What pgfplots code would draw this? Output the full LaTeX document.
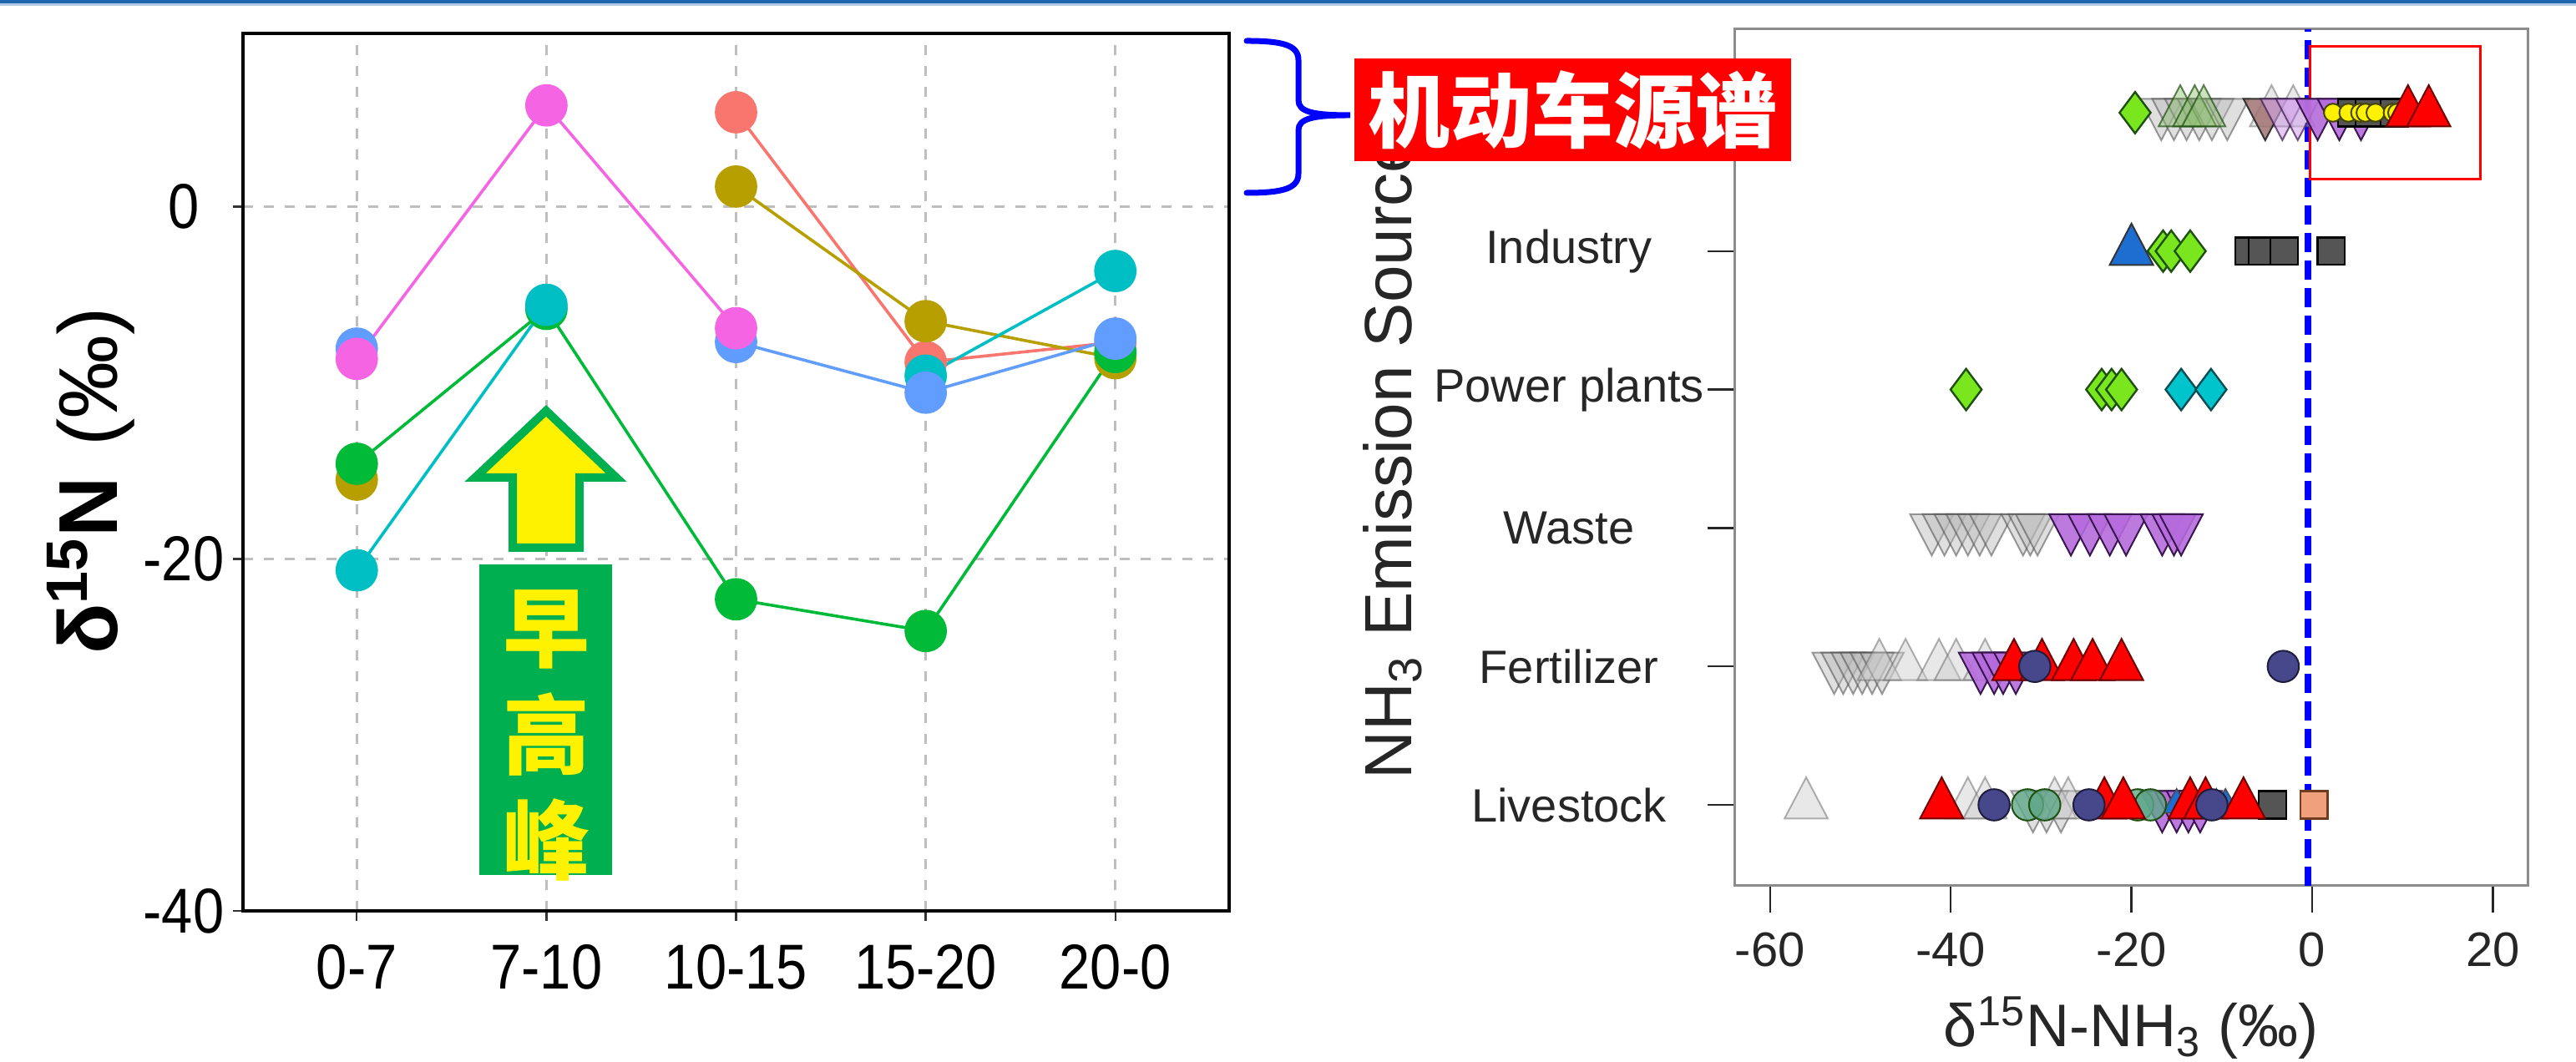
\documentclass[border=0pt]{standalone}
\usepackage{pgfplots}
\pgfplotsset{compat=1.18}
\usepackage{fontspec}
\setmainfont{Liberation Sans}
\newfontfamily\leftfont[FakeStretch=0.88]{Liberation Sans}
\newfontfamily\cjk{Noto Sans CJK SC}
\definecolor{cSal}{HTML}{F8766D}
\definecolor{cOli}{HTML}{B79F00}
\definecolor{cGrn}{HTML}{00BA38}
\definecolor{cCya}{HTML}{00BFC4}
\definecolor{cBlu}{HTML}{619CFF}
\definecolor{cPnk}{HTML}{F564E3}
\definecolor{lgreen}{HTML}{7AE61E}
\definecolor{dgreen}{HTML}{1E5010}
\definecolor{tgreen}{HTML}{8CBE6E}
\definecolor{mcyan}{HTML}{00C4CC}
\definecolor{dcyan}{HTML}{0A4E55}
\definecolor{purp}{HTML}{B56BDC}
\definecolor{dpurp}{HTML}{3A1650}
\definecolor{slate}{HTML}{47478C}
\definecolor{dslate}{HTML}{1E1E3C}
\definecolor{sqgray}{HTML}{555555}
\definecolor{teal2}{HTML}{5FA88A}
\definecolor{brown2}{HTML}{A07272}
\definecolor{salm2}{HTML}{F0A07A}
\definecolor{dsalm}{HTML}{6E3C1E}
\definecolor{blue2}{HTML}{1E6ED2}
\definecolor{dred}{HTML}{6E0000}
\definecolor{dyel}{HTML}{464600}
\definecolor{pptgreen}{HTML}{00B050}
\definecolor{topblue}{HTML}{1F65B0}
\definecolor{boxgray}{HTML}{8C8C8C}
\definecolor{gridgray}{HTML}{BEBEBE}
\begin{document}
\begin{tikzpicture}
\path[use as bounding box] (0,0) rectangle (771.25pt,318pt);
\fill[topblue] (0,317pt) rectangle (771.25pt,318pt);
\fill[topblue!35] (0,316.2pt) rectangle (771.25pt,317pt);

% ---------------- right panel ----------------
\begin{axis}[
  at={(519.25pt,52.75pt)}, anchor=south west,
  width=237.5pt, height=256.5pt, scale only axis,
  xmin=-63.95, xmax=23.84, ymin=0.415, ymax=6.603,
  axis line style={draw=boxgray, line width=0.75pt},
  xtick={-60,-40,-20,0,20},
  ytick={1,2,3,4,5,6},
  yticklabels={Livestock,Fertilizer,Waste,Power plants,Industry,{}},
  tick align=outside, tick pos=left,
  major tick length=8pt,
  tick style={black!85, line width=0.6pt},
  /pgf/number format/assume math mode=true,
  xticklabel style={font=\fontsize{14.5}{17}\selectfont, text=black!85, anchor=north, yshift=-2.5pt},
  yticklabel style={font=\fontsize{14}{17}\selectfont, text=black!85, anchor=center, xshift=-41.5pt},
  xlabel={δ\textsuperscript{15}N-NH\textsubscript{3} (‰)},
  xlabel style={font=\fontsize{18}{21}\selectfont, text=black!85, at={(axis description cs:0.5,-0.166)}, anchor=center},
  ylabel={NH\textsubscript{3} Emission Source},
  ylabel style={font=\fontsize{20}{24}\selectfont, text=black!85, at={(axis description cs:-0.4305,0.5)}, anchor=center},
  clip=false,
  tri/.style={only marks, mark=triangle*, mark size=7.5pt},
]
% gray down-triangles
\addplot[tri, mark options={rotate=180, yscale=1.1, fill=gray!55, fill opacity=0.45, draw=black!70, draw opacity=0.55, line width=0.5pt}] coordinates {
(-16.7,6) (-15.3,6) (-13.9,6) (-12.5,6) (-11.1,6) (-9.4,6)
(-42.1,3) (-40.7,3) (-39.4,3) (-38.1,3) (-36.8,3) (-35.5,3) (-32.0,3) (-31.2,3) (-30.4,3)
(-52.9,2) (-51.9,2) (-50.8,2) (-49.8,2) (-48.7,2) (-47.6,2)
(-30.9,1) (-29.4,1) (-27.8,1)
};
% gray up-triangles
\addplot[tri, mark options={yscale=1.1, fill=gray!40, fill opacity=0.45, draw=black!60, draw opacity=0.5, line width=0.5pt}] coordinates {
(-4.5,6) (-2.1,6)
(-47.9,2) (-45.0,2) (-41.3,2) (-39.4,2) (-36.2,2)
(-56.0,1) (-38.1,1) (-36.2,1) (-28.5,1) (-27.0,1)
};
% greenish translucent up-triangles
\addplot[tri, mark options={yscale=1.1, fill=tgreen, fill opacity=0.45, draw=dgreen, draw opacity=0.7, line width=0.5pt}] coordinates {
(-14.6,6) (-13.0,6) (-12.0,6)
};
% brown down-triangle
\addplot[tri, mark options={rotate=180, yscale=1.1, fill=brown2, fill opacity=0.85, draw=black!80, line width=0.5pt}] coordinates {(-5.2,6)};
% light purple down
\addplot[tri, mark options={rotate=180, yscale=1.1, fill=purp!60, fill opacity=0.6, draw=dpurp, draw opacity=0.7, line width=0.5pt}] coordinates {(-3.3,6) (-1.6,6)};
% purple down-triangles
\addplot[tri, mark options={rotate=180, yscale=1.1, fill=purp, fill opacity=0.9, draw=dpurp, line width=0.5pt}] coordinates {
(0.6,6) (3.0,6) (5.4,6)
(-26.7,3) (-24.6,3) (-22.4,3) (-20.6,3) (-16.6,3) (-15.3,3) (-14.5,3)
(-36.7,2) (-35.2,2) (-34.2,2) (-32.8,2)
(-16.6,1) (-15.0,1) (-13.7,1) (-12.4,1)
};
% green diamonds
\addplot[only marks, mark=diamond*, mark size=6.2pt, mark options={fill=lgreen, draw=dgreen, line width=0.6pt}] coordinates {
(-19.6,6)
(-16.5,5) (-15.6,5) (-13.5,5)
(-38.3,4) (-23.3,4) (-22.2,4) (-21.1,4)
};
% cyan diamonds
\addplot[only marks, mark=diamond*, mark size=6.2pt, mark options={fill=mcyan, draw=dcyan, line width=0.6pt}] coordinates {(-14.5,4) (-11.2,4)};
% blue up-triangles
\addplot[tri, mark options={yscale=1.1, fill=blue2, draw=black!80, line width=0.5pt}] coordinates {(-20.0,5)};
\addplot[only marks, mark=triangle*, mark size=4.8pt, mark options={fill=blue2, draw=black!70, line width=0.4pt}] coordinates {(-15.0,1) (-10.6,1) (-9.6,1)};
% dark gray squares
\addplot[only marks, mark=square*, mark size=4.1pt, mark options={fill=sqgray, draw=black, line width=0.6pt}] coordinates {
(4.4,6) (6.3,6) (9.1,6)
(-7.0,5) (-5.5,5) (-3.1,5) (2.1,5)
(-4.4,1)
};
% salmon square
\addplot[only marks, mark=square*, mark size=4.1pt, mark options={fill=salm2, draw=dsalm, line width=0.6pt}] coordinates {(0.2,1)};
% teal / green circles
\addplot[only marks, mark=*, mark size=4.7pt, mark options={fill=teal2, fill opacity=0.8, draw=dgreen, line width=0.5pt}] coordinates {(-31.5,1) (-29.6,1) (-19.3,1) (-17.9,1)};
% red up-triangles
\addplot[tri, mark options={yscale=1.1, fill=red, draw=dred, line width=0.5pt}] coordinates {
(-33.0,2) (-29.9,2) (-26.4,2) (-24.3,2) (-21.1,2)
(-41.0,1) (-23.0,1) (-20.9,1) (-13.5,1) (-11.8,1) (-7.6,1)
};
% slate circles
\addplot[only marks, mark=*, mark size=4.7pt, mark options={fill=slate, draw=dslate, line width=0.5pt}] coordinates {
(-30.7,2) (-3.2,2)
(-35.2,1) (-24.7,1) (-11.1,1)
};
% yellow circles
\addplot[only marks, mark=*, mark size=2.7pt, mark options={fill=yellow, draw=dyel, line width=0.5pt}] coordinates {
(2.3,6) (4.0,6) (5.3,6) (5.9,6) (7.0,6) (8.9,6) (9.4,6)
};
% red triangles vehicle
\addplot[tri, mark options={yscale=1.1, fill=red, draw=dred, line width=0.5pt}] coordinates {(10.6,6) (12.9,6)};
% blue dashed line
\addplot[blue, line width=2pt, dash pattern=on 5.75pt off 2.5pt] coordinates {(-0.45,0.415) (-0.45,6.603)};
\draw[red, line width=0.75pt] (axis cs:-0.2,5.523) rectangle (axis cs:18.65,6.477);
\end{axis}

% ---------------- left panel ----------------
\begin{axis}[
  at={(72.75pt,45.25pt)}, anchor=south west,
  width=295.25pt, height=262.75pt, scale only axis,
  xmin=0.4, xmax=5.6, ymin=-40, ymax=9.85,
  xtick={1,2,3,4,5}, xticklabels={0-7,7-10,10-15,15-20,20-0},
  ytick={-40,-20,0},
  grid=major,
  grid style={draw=gridgray, line width=0.8pt, dash pattern=on 3pt off 3.25pt},
  axis line style={black, line width=0.9pt},
  tick align=outside, tick pos=left, major tick length=3pt,
  tick style={black!80, line width=0.6pt},
  /pgf/number format/assume math mode=true,
  xticklabel style={font=\leftfont\fontsize{19}{22}\selectfont, anchor=north, yshift=-3.6pt},
  yticklabel style={font=\leftfont\fontsize{19}{22}\selectfont, anchor=center, xshift=-14.75pt},
  ylabel={\bfseries δ\textsuperscript{15}N\mdseries\kern9pt(‰)},
  ylabel style={font=\fontsize{25}{30}\selectfont, at={(axis description cs:-0.154,0.49)}, anchor=center},
  unbounded coords=jump,
  every axis plot/.append style={line width=0.9pt, mark=*, mark size=5.9pt},
]
\addplot[cSal, mark options={fill=cSal, draw=cSal}] coordinates {(1,nan) (2,nan) (3,5.37) (4,-8.83) (5,-7.7)};
\addplot[cOli, mark options={fill=cOli, draw=cOli}] coordinates {(1,-15.5) (2,nan) (3,1.15) (4,-6.5) (5,-8.6)};
\addplot[cGrn, mark options={fill=cGrn, draw=cGrn}] coordinates {(1,-14.6) (2,-5.8) (3,-22.3) (4,-24.1) (5,-8.25)};
\addplot[cCya, mark options={fill=cCya, draw=cCya}] coordinates {(1,-20.65) (2,-5.57) (3,nan) (4,-9.6) (5,-3.65)};
\addplot[cBlu, mark options={fill=cBlu, draw=cBlu}] coordinates {(1,-8.06) (2,nan) (3,-7.68) (4,-10.56) (5,-7.49)};
\addplot[cPnk, mark options={fill=cPnk, draw=cPnk}] coordinates {(1,-8.64) (2,5.76) (3,-6.9) (4,nan) (5,nan)};
\end{axis}

% ---------------- annotations ----------------
\draw[line width=2.5pt, draw=pptgreen, fill=yellow, line join=miter]
  (163.5pt,195pt) -- (184.5pt,175pt) -- (173.5pt,175pt) -- (173.5pt,154pt)
  -- (153.5pt,154pt) -- (153.5pt,175pt) -- (142.25pt,175pt) -- cycle;
\fill[pptgreen] (143.5pt,56pt) rectangle (183.25pt,149pt);
\node[text=yellow, font=\cjk\bfseries\fontsize{26}{28}\selectfont, inner sep=0pt] at (163.5pt,129.5pt) {早};
\node[text=yellow, font=\cjk\bfseries\fontsize{26}{28}\selectfont, inner sep=0pt] at (163.5pt,98pt) {高};
\node[text=yellow, font=\cjk\bfseries\fontsize{26}{28}\selectfont, inner sep=0pt] at (163.5pt,66.5pt) {峰};

\draw[blue, line width=1.75pt, line cap=round]
  (373.25pt,305.75pt) .. controls (384pt,305.75pt) and (388.75pt,304.5pt) .. (388.75pt,300pt)
  -- (388.75pt,288pt) .. controls (388.75pt,284.5pt) and (393pt,283.5pt) .. (404.25pt,283.5pt)
  .. controls (393pt,283.5pt) and (388.75pt,282.5pt) .. (388.75pt,279pt)
  -- (388.75pt,266pt) .. controls (388.75pt,261.5pt) and (384pt,260.25pt) .. (373.25pt,260.25pt);

\node[fill=red, inner sep=0pt, minimum width=130.75pt, minimum height=30.75pt, text=white,
  font=\cjk\bfseries\fontsize{24.5}{26}\selectfont] at (470.9pt,285pt) {机动车源谱};
\end{tikzpicture}
\end{document}
